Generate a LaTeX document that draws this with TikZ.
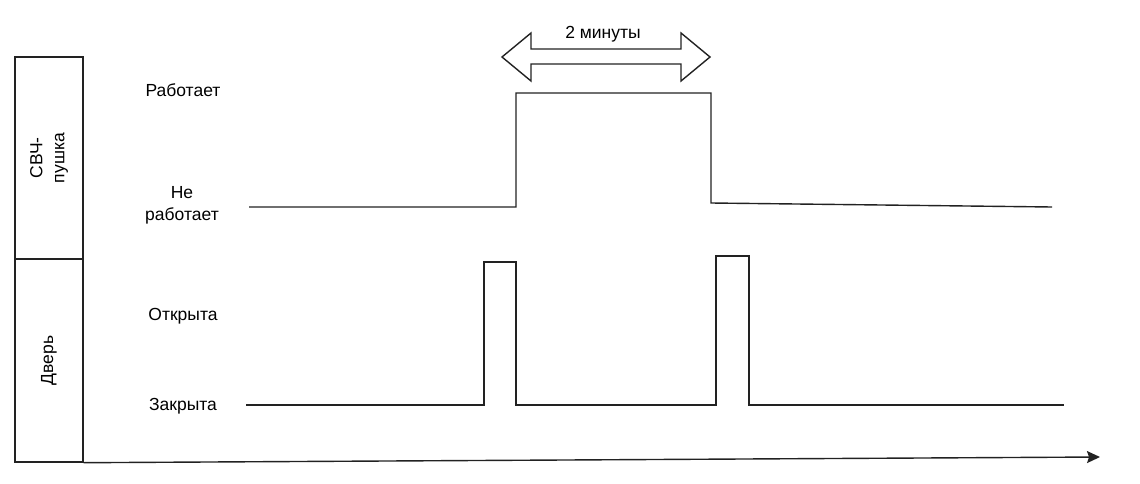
\documentclass[tikz,border=0pt]{standalone}
\usepackage{fontspec}
\setmainfont{Liberation Sans}
\usetikzlibrary{arrows.meta}
\definecolor{ln}{HTML}{222222}
\begin{document}
\begin{tikzpicture}[x=1pt,y=-1pt,
  sig/.style={draw=ln, line width=1.4pt, line join=miter},
  box/.style={draw=ln, line width=1.4pt, minimum width=68pt, inner sep=0pt},
  lbl/.style={font=\fontsize{17.5}{22}\selectfont, align=center, inner sep=0pt},
  rlbl/.style={lbl, rotate=90}]
\useasboundingbox (0,0) rectangle (1140,484);
% left boxes
\node[box, minimum height=202pt] (b1) at (49,158) {};
\node[box, minimum height=203pt] (b2) at (49,360.5) {};
\node[rlbl] (t1) at (b1.center) {СВЧ-\\пушка};
\node[rlbl] (t2) at (b2.center) {Дверь};
% state labels
\node[lbl] (l1) at (183,90) {Работает};
\node[lbl] (l2) at (182,205) {Не\\работает};
\node[lbl] (l3) at (183,316) {Открыта};
\node[lbl] (l4) at (183,406) {Закрыта};
% time axis
\coordinate (a1) at (b2.south east);
\coordinate (a2) at (1100,457);
\draw[draw=ln, line width=1.4pt, -{Stealth[length=13pt,width=12pt,inset=2pt]}] (a1) -- (a2);
% magnetron signal
\draw[sig] (249,207) -- (516,207) -- (516,93) -- (711,93) -- (711,203) -- (1052,207);
% door signal
\draw[sig] (246,405) -- (484,405) -- (484,262) -- (516,262) -- (516,405)
  -- (716,405) -- (716,256) -- (749,256) -- (749,405) -- (1064,405);
% 2 minutes block arrow
\draw[draw=ln, line width=1.4pt, line join=miter] (502,57) -- (531,33) -- (531,49) -- (681,49) -- (681,33)
  -- (710,57) -- (681,81) -- (681,64) -- (531,64) -- (531,81) -- cycle;
\node[lbl] (m) at (603,34) {2 минуты};
\end{tikzpicture}
\end{document}
